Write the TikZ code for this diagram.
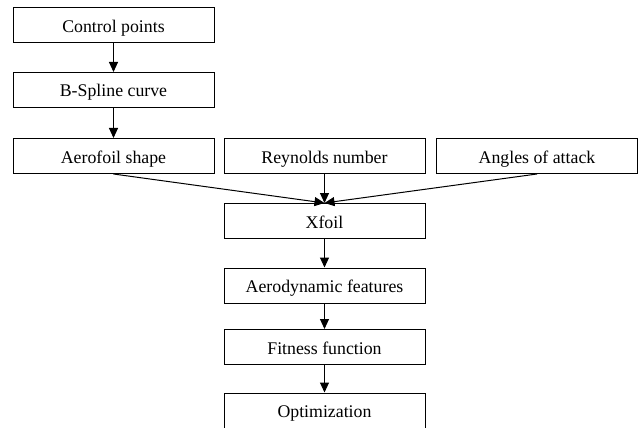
\documentclass[tikz,border=0pt]{standalone}
\usepackage{fontspec}
\setmainfont{Liberation Serif}
\usetikzlibrary{arrows.meta}
\begin{document}
\begin{tikzpicture}[x=1pt,y=-1pt,
  txt/.style={inner sep=0pt, text height=15pt, text depth=1pt, font=\fontsize{17.8}{20}\selectfont},
  box/.style={txt, draw, line width=1pt, minimum width=201pt, minimum height=35pt},
  arr/.style={-{Triangle[length=10pt,width=9pt]}, line width=1pt}]
\useasboundingbox (0,0) rectangle (638,428);
\clip (0,0) rectangle (638,428);
\node[box] (cp) at (113.5,25.5) {Control points};
\node[box] (bs) at (113.5,90) {B-Spline curve};
\node[box] (af) at (113.5,156) {Aerofoil shape};
\node[box] (rn) at (324.5,156) {Reynolds number};
\node[box] (aa) at (537,156) {Angles of attack};
\node[box] (xf) at (324.5,221) {Xfoil};
\node[box] (ad) at (324.5,285.5) {Aerodynamic features};
\node[box] (ff) at (324.5,347) {Fitness function};
\node[box, minimum height=40pt, text height=0pt, text depth=0pt] (op) at (324.5,413) {};
\node[txt] (opt) at (324.5,410.5) {Optimization};
\draw[arr] (cp) -- (bs);
\draw[arr] (bs) -- (af);
\draw[arr] (af.south) -- (xf.north);
\draw[arr] (rn) -- (xf);
\draw[arr] (aa.south) -- (xf.north);
\draw[arr] (xf) -- (ad);
\draw[arr] (ad) -- (ff);
\draw[arr] (ff) -- (op);
\end{tikzpicture}
\end{document}
